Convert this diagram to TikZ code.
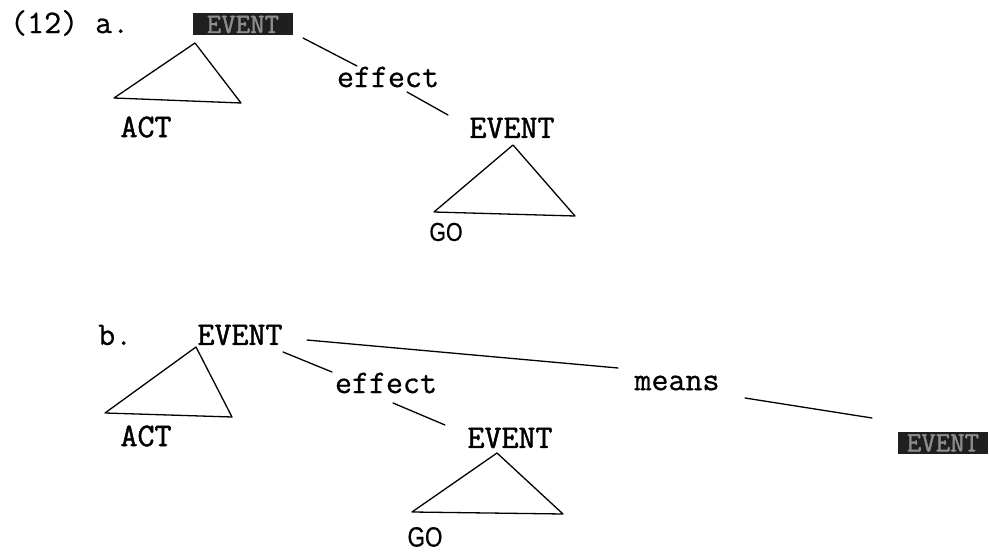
\documentclass[tikz,border=0pt]{standalone}
\usepackage{fontspec}
\newfontfamily\twfont[FakeBold=0.7]{Latin Modern Mono}
\newfontfamily\catfont[FakeBold=1.4]{Latin Modern Mono}
\newfontfamily\gofont[FakeBold=0.6]{Liberation Sans}
\begin{document}
\begin{tikzpicture}[x=1pt,y=-1pt,
  lbl/.style={inner sep=0pt,font=\twfont\fontsize{33}{36}\selectfont},
  cat/.style={inner sep=0pt,font=\catfont\fontsize{33}{36}\selectfont},
  goa/.style={inner sep=0pt,font=\gofont\fontsize{26}{28}\selectfont,xscale=0.82},
  gob/.style={inner sep=0pt,font=\gofont\fontsize{28}{30}\selectfont,xscale=0.8},
  hid/.style={fill=black!88,text=black!45,inner sep=0pt,minimum height=22pt,font=\catfont\fontsize{28}{30}\selectfont},
  edge/.style={line width=1.3pt,line cap=round,line join=round},
  tri/.style={line width=1.3pt,line join=round}]
\useasboundingbox (0,0) rectangle (989,553);
% ---------- part a ----------
\node[lbl,anchor=west] (numa) at (10,23) {(12) a.};
\node[hid,minimum width=100pt] (evA) at (243,24.5) {EVENT};
\node[lbl] (effA) at (388,77) {effect};
\node[cat] (evA2) at (512,128) {EVENT};
\node[cat] (actA) at (146,127) {ACT};
\node[goa] (goA) at (446,232) {GO};
\coordinate (tA1t) at (195,43);
\coordinate (tA1l) at (114,98);
\coordinate (tA1r) at (241,103);
\draw[tri] (tA1t) -- (tA1r) -- (tA1l) -- cycle;
\coordinate (tA2t) at (513,145);
\coordinate (tA2l) at (434,212);
\coordinate (tA2r) at (575,216);
\draw[tri] (tA2t) -- (tA2r) -- (tA2l) -- cycle;
\coordinate (eA1) at (303,38);
\coordinate (eA2) at (357,66);
\coordinate (eA3) at (407,92);
\coordinate (eA4) at (448,115);
\draw[edge] (eA1) -- (eA2);
\draw[edge] (eA3) -- (eA4);
% ---------- part b ----------
\node[lbl,anchor=west] (numb) at (98,335) {b.};
\node[cat] (evB) at (240,335) {EVENT};
\node[lbl] (effB) at (386,383) {effect};
\node[cat] (evB2) at (510,438) {EVENT};
\node[cat] (actB) at (146,436) {ACT};
\node[gob] (goB) at (425,537) {GO};
\node[lbl] (meansB) at (677,383) {means};
\node[hid,minimum width=90pt] (evB3) at (943,443) {EVENT};
\coordinate (tB1t) at (196,347);
\coordinate (tB1l) at (105,413);
\coordinate (tB1r) at (232,417);
\draw[tri] (tB1t) -- (tB1r) -- (tB1l) -- cycle;
\coordinate (tB2t) at (497,453);
\coordinate (tB2l) at (412,512);
\coordinate (tB2r) at (563,514);
\draw[tri] (tB2t) -- (tB2r) -- (tB2l) -- cycle;
\coordinate (eB1) at (283,352);
\coordinate (eB2) at (332,372);
\coordinate (eB3) at (393,403);
\coordinate (eB4) at (445,425);
\coordinate (eB5) at (307,340);
\coordinate (eB6) at (618,368);
\coordinate (eB7) at (745,398);
\coordinate (eB8) at (872,418);
\draw[edge] (eB1) -- (eB2);
\draw[edge] (eB3) -- (eB4);
\draw[edge] (eB5) -- (eB6);
\draw[edge] (eB7) -- (eB8);
\end{tikzpicture}
\end{document}
